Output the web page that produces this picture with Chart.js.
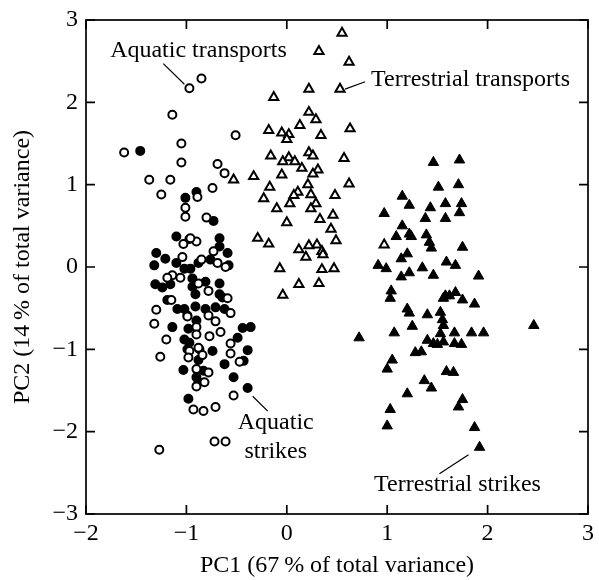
<!DOCTYPE html>
<html>
<head>
<meta charset="utf-8">
<script src="https://cdn.jsdelivr.net/npm/chart.js@4.4.1/dist/chart.umd.min.js"></script>
<style>
  html, body { margin: 0; padding: 0; background: #fff; }
  #wrap { width: 599px; height: 580px; position: relative; }
</style>
</head>
<body>
<div id="wrap"><canvas id="chart"></canvas></div>
<script>
// ---- data: [PC1, PC2] ----
const aquaticTransports = [
  [-0.97, 2.17], [-0.85, 2.29], [-1.14, 1.85], [-0.51, 1.60], [-1.62, 1.39],
  [-1.05, 1.50], [-1.05, 1.27], [-0.69, 1.25], [-0.62, 1.14], [-1.37, 1.06],
  [-1.16, 1.06], [-0.74, 0.96], [-1.25, 0.88], [-0.89, 0.85], [-1.01, 0.72],
  [-1.01, 0.61], [-0.80, 0.60], [-0.90, 0.31], [-1.03, 0.28], [-0.96, 0.35],
  [-0.73, 0.19], [-0.69, 0.05], [-0.85, 0.09], [-1.14, -0.10], [-1.19, -0.13],
  [-1.06, -0.13], [-1.15, -0.40], [-0.78, -0.29], [-0.59, -0.38], [-1.30, -0.52],
  [-1.32, -0.69], [-0.99, -0.60], [-0.78, -0.59], [-0.71, -0.66], [-0.56, -0.56],
  [-0.90, -0.73], [-0.66, -0.79], [-1.20, -0.88], [-0.90, -0.82], [-0.77, -0.84],
  [-0.56, -0.93], [-0.97, -1.02], [-0.88, -0.98], [-0.56, -1.05], [-1.26, -1.09],
  [-0.98, -1.10], [-0.84, -1.07], [-0.47, -1.15], [-0.90, -1.24], [-0.78, -1.28],
  [-0.82, -1.40], [-0.90, -1.45], [-0.53, -1.56], [-0.93, -1.73], [-0.83, -1.75],
  [-0.71, -1.70], [-0.72, -2.12], [-0.61, -2.12], [-1.27, -2.22], [-0.88, -0.20],
  [-0.61, 0.00], [-1.04, 0.12]
];
const aquaticStrikes = [
  [-1.46, 1.41], [-1.01, 0.84], [-0.90, 0.91], [-0.73, 0.56], [-1.10, 0.37],
  [-0.97, 0.34], [-0.67, 0.35], [-0.67, 0.25], [-1.30, 0.17], [-1.21, 0.10],
  [-1.32, 0.02], [-1.10, 0.05], [-1.02, -0.02], [-0.96, -0.02], [-0.88, 0.05],
  [-0.76, 0.09], [-0.59, 0.17], [-0.58, 0.02], [-1.31, -0.21], [-1.24, -0.25],
  [-1.16, -0.21], [-0.94, -0.14], [-0.81, -0.18], [-0.67, -0.20], [-0.94, -0.24],
  [-0.91, -0.33], [-0.67, -0.33], [-0.64, -0.37], [-1.19, -0.40], [-1.09, -0.51],
  [-1.02, -0.51], [-0.91, -0.48], [-0.81, -0.51], [-0.71, -0.49], [-0.62, -0.51],
  [-0.99, -0.59], [-0.90, -0.65], [-1.14, -0.73], [-0.98, -0.75], [-0.44, -0.74],
  [-0.36, -0.73], [-0.49, -0.86], [-1.02, -0.88], [-0.97, -0.92], [-0.99, -1.00],
  [-0.87, -1.00], [-0.74, -1.02], [-0.39, -1.01], [-0.43, -1.14], [-0.88, -1.13],
  [-0.62, -1.18], [-1.03, -1.25], [-0.83, -1.26], [-0.90, -1.34], [-0.53, -1.34],
  [-0.88, -1.40], [-0.39, -1.47], [-0.98, -1.60]
];
const terrestrialTransports = [
  [0.55, 2.84], [0.32, 2.62], [0.62, 2.49], [0.22, 2.16], [0.53, 2.16],
  [-0.13, 2.06], [0.22, 1.88], [0.29, 1.79], [0.13, 1.72], [0.63, 1.68],
  [-0.18, 1.66], [-0.05, 1.63], [0.02, 1.61], [0.00, 1.55], [0.34, 1.60],
  [0.22, 1.39], [0.26, 1.35], [-0.16, 1.35], [0.02, 1.33], [-0.04, 1.28],
  [0.08, 1.28], [0.57, 1.32], [0.15, 1.20], [0.31, 1.18], [0.26, 1.13],
  [-0.05, 1.12], [-0.33, 1.10], [-0.53, 1.06], [0.21, 1.00], [0.62, 1.01],
  [-0.17, 0.97], [0.11, 0.91], [0.24, 0.88], [0.07, 0.87], [0.48, 0.87],
  [-0.23, 0.83], [0.03, 0.77], [0.29, 0.77], [-0.10, 0.71], [0.24, 0.71],
  [0.46, 0.63], [0.33, 0.58], [0.00, 0.54], [0.44, 0.46], [-0.29, 0.35],
  [0.49, 0.32], [-0.18, 0.28], [0.30, 0.27], [0.22, 0.26], [0.12, 0.21],
  [0.35, 0.19], [0.36, 0.15], [0.19, 0.12], [-0.07, -0.02], [0.35, -0.03],
  [0.47, -0.02], [0.12, -0.21], [0.32, -0.20], [-0.04, -0.34], [0.97, 0.27]
];
const terrestrialStrikes = [
  [1.46, 1.27], [1.72, 1.30], [1.71, 1.00], [1.51, 0.97], [1.15, 0.86],
  [1.22, 0.75], [1.58, 0.77], [1.74, 0.77], [0.97, 0.65], [1.43, 0.72],
  [1.72, 0.66], [1.38, 0.59], [1.58, 0.59], [1.15, 0.50], [1.09, 0.37],
  [1.22, 0.40], [1.24, 0.37], [1.39, 0.39], [1.42, 0.30], [1.44, 0.23],
  [1.75, 0.24], [1.20, 0.16], [1.14, 0.10], [0.91, 0.02], [0.99, -0.02],
  [1.35, -0.01], [1.59, 0.06], [1.68, 0.02], [1.22, -0.07], [1.14, -0.12],
  [1.46, -0.10], [1.91, -0.11], [1.04, -0.29], [1.03, -0.38], [1.58, -0.35],
  [1.68, -0.31], [1.62, -0.35], [1.56, -0.38], [1.75, -0.40], [1.87, -0.45],
  [1.20, -0.51], [1.22, -0.56], [1.40, -0.58], [1.53, -0.55], [1.55, -0.64],
  [1.56, -0.71], [1.25, -0.72], [1.07, -0.80], [0.72, -0.86], [1.53, -0.81],
  [1.67, -0.80], [1.84, -0.80], [1.96, -0.80], [2.46, -0.71], [1.40, -0.89],
  [1.46, -0.93], [1.50, -0.94], [1.56, -0.91], [1.67, -0.93], [1.74, -0.94],
  [1.28, -1.04], [1.34, -1.03], [1.05, -1.13], [1.00, -1.24], [1.59, -1.27],
  [1.66, -1.28], [1.37, -1.38], [1.44, -1.47], [1.20, -1.54], [1.75, -1.61],
  [1.71, -1.70], [1.03, -1.73], [1.00, -1.93], [1.87, -1.95], [1.92, -2.19]
];

// axis ticks
const xTicks = [-2, -1, 0, 1, 2, 3];
const yTicks = [-3, -2, -1, 0, 1, 2, 3];

// group labels: text, position (data units)
const labelTexts = ["Aquatic transports", "Terrestrial transports", "Aquatic", "strikes", "Terrestrial strikes"];
const labelPos = [[-0.88, 2.63], [1.83, 2.28], [-0.11, -1.89], [-0.11, -2.24], [1.70, -2.65]];
// leader lines: [x1, y1, x2, y2] (data units)
const leaderLines = [
  [-1.23, 2.47, -1.02, 2.22],
  [0.58, 2.16, 0.78, 2.25],
  [-0.34, -1.57, -0.19, -1.75],
  [1.81, -2.28, 1.52, -2.51]
];

const FONT = "'Liberation Serif', 'Times New Roman', serif";
const FSIZE = 24;
const toXY = arr => arr.map(p => ({ x: p[0], y: p[1] }));
const minus = v => (v < 0 ? "\u2212" + Math.abs(v) : String(v));

// frame, inward ticks, labels and leader lines
const framePlugin = {
  id: "frame",
  afterDraw(chart) {
    const { ctx, chartArea: a, scales } = chart;
    const xs = scales.x, ys = scales.y;
    const tl = 9;
    ctx.save();
    ctx.strokeStyle = "#000";
    ctx.lineWidth = 1.7;
    ctx.strokeRect(a.left, a.top, a.right - a.left, a.bottom - a.top);
    ctx.beginPath();
    xTicks.forEach(v => {
      const px = xs.getPixelForValue(v);
      ctx.moveTo(px, a.bottom); ctx.lineTo(px, a.bottom - tl);
      ctx.moveTo(px, a.top); ctx.lineTo(px, a.top + tl);
    });
    yTicks.forEach(v => {
      const py = ys.getPixelForValue(v);
      ctx.moveTo(a.left, py); ctx.lineTo(a.left + tl, py);
      ctx.moveTo(a.right, py); ctx.lineTo(a.right - tl, py);
    });
    ctx.stroke();

    ctx.lineWidth = 1.2;
    ctx.beginPath();
    leaderLines.forEach(l => {
      ctx.moveTo(xs.getPixelForValue(l[0]), ys.getPixelForValue(l[1]));
      ctx.lineTo(xs.getPixelForValue(l[2]), ys.getPixelForValue(l[3]));
    });
    ctx.stroke();

    ctx.fillStyle = "#000";
    ctx.font = FSIZE + "px " + FONT;
    ctx.textAlign = "center";
    ctx.textBaseline = "middle";
    labelTexts.forEach((t, i) => {
      ctx.fillText(t, xs.getPixelForValue(labelPos[i][0]), ys.getPixelForValue(labelPos[i][1]));
    });
    ctx.restore();
  }
};

new Chart(document.getElementById("chart"), {
  type: "scatter",
  data: {
    datasets: [
      {
        label: "Aquatic transports", data: toXY(aquaticTransports),
        pointStyle: "circle", pointRadius: 4, borderWidth: 2,
        borderColor: "#000", backgroundColor: "#fff"
      },
      {
        label: "Aquatic strikes", data: toXY(aquaticStrikes),
        pointStyle: "circle", pointRadius: 4, borderWidth: 2,
        borderColor: "#000", backgroundColor: "#000"
      },
      {
        label: "Terrestrial transports", data: toXY(terrestrialTransports),
        pointStyle: "triangle", pointRadius: 5.3, borderWidth: 2,
        borderColor: "#000", backgroundColor: "#fff"
      },
      {
        label: "Terrestrial strikes", data: toXY(terrestrialStrikes),
        pointStyle: "triangle", pointRadius: 6, borderWidth: 1,
        borderColor: "#000", backgroundColor: "#000"
      }
    ]
  },
  options: {
    responsive: true,
    maintainAspectRatio: false,
    animation: false,
    events: [],
    layout: { padding: { top: 13, right: 11, left: 0, bottom: 0 } },
    plugins: { legend: { display: false }, tooltip: { enabled: false } },
    scales: {
      x: {
        type: "linear", min: -2, max: 3,
        afterBuildTicks: s => { s.ticks = xTicks.map(v => ({ value: v })); },
        afterFit: s => { s.height = 66; },
        grid: { display: false, drawTicks: false },
        border: { display: false },
        ticks: {
          padding: 5, color: "#000",
          font: { family: FONT, size: FSIZE },
          callback: v => minus(v)
        },
        title: {
          display: true, text: "PC1 (67\u2009% of total variance)", color: "#000",
          font: { family: FONT, size: FSIZE }, padding: { top: 4, bottom: 0 }
        }
      },
      y: {
        type: "linear", min: -3, max: 3,
        afterBuildTicks: s => { s.ticks = yTicks.map(v => ({ value: v })); },
        afterFit: s => { s.width = 86; },
        grid: { display: false, drawTicks: false },
        border: { display: false },
        ticks: {
          padding: 8, color: "#000",
          font: { family: FONT, size: FSIZE, lineHeight: 1 },
          callback: v => minus(v)
        },
        title: {
          display: true, text: "PC2 (14\u2009% of total variance)", color: "#000",
          font: { family: FONT, size: FSIZE }, padding: { top: 8, bottom: 0 }
        }
      }
    }
  },
  plugins: [framePlugin]
});
</script>
</body>
</html>
